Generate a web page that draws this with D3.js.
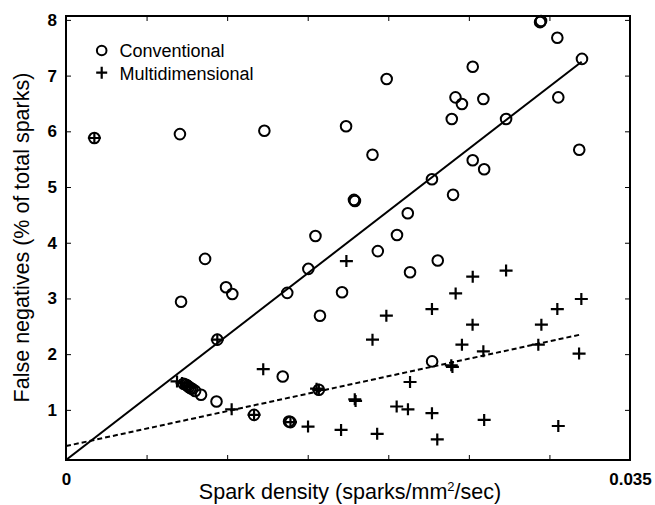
<!DOCTYPE html>
<html><head><meta charset="utf-8">
<script src="https://cdn.jsdelivr.net/npm/d3@7"></script>
<style>body{margin:0;background:#fff} svg{display:block}</style>
</head><body>
<svg id="c" width="655" height="505"></svg>
<script>
// Conventional (circles)
const convX = [0.00176,0.00707,0.01231,0.01548,0.00863,0.00714,0.00993,0.01032,0.01373,0.01504,
  0.01576,0.00939,0.01345,0.00745,0.00763,0.00782,0.00801,0.00838,0.00934,0.01167,
  0.01393,0.01384,0.01569,0.02942,0.02948,0.03049,0.03202,0.02524,0.01990,0.02417,
  0.02457,0.02590,0.03055,0.02394,0.02731,0.01738,0.01902,0.03185,0.02524,0.02595,
  0.01793,0.01787,0.02271,0.02402,0.02121,0.02054,0.01935,0.02307,0.02135,0.01713,0.02272,
  0.00730,0.00755,0.00772];
const convY = [5.88,5.95,6.01,4.12,3.71,2.94,3.20,3.08,3.10,3.53,
  2.69,2.26,1.60,1.45,1.41,1.38,1.34,1.27,1.15,0.91,
  0.78,0.79,1.36,7.96,7.98,7.68,7.30,7.16,6.94,6.61,
  6.49,6.58,6.61,6.22,6.22,6.09,5.58,5.67,5.48,5.32,
  4.75,4.77,5.14,4.86,4.53,4.14,3.85,3.68,3.47,3.11,1.87,
  1.47,1.43,1.39];
// Multidimensional (plus signs)
const multiX = [0.00176,0.00939,0.00689,0.00720,0.00751,0.01028,0.01167,0.01393,0.01502,0.01224,
  0.01569,0.01555,0.01740,0.02524,0.02731,0.02418,0.02271,0.01988,0.03198,0.03049,
  0.02523,0.02950,0.01902,0.02457,0.02590,0.02931,0.03184,0.02391,0.02398,0.02135,
  0.01792,0.01797,0.02052,0.02122,0.02271,0.02595,0.03055,0.01707,0.01931,0.02304,
  0.00770];
const multiY = [5.88,2.26,1.51,1.48,1.44,1.01,0.91,0.78,0.70,1.73,
  1.36,1.38,3.67,3.39,3.50,3.09,2.81,2.69,2.99,2.81,
  2.53,2.53,2.26,2.17,2.05,2.17,2.01,1.80,1.77,1.50,
  1.19,1.16,1.06,1.01,0.94,0.82,0.71,0.64,0.57,0.47,
  1.41];
// regression lines
const fitConvX = [0, 0.0320];
const fitConvY = [0.10, 7.25];
const fitMultiX = [0, 0.0319];
const fitMultiY = [0.35, 2.35];
// ticks
const xTicks = [0,0.005,0.01,0.015,0.02,0.025,0.03,0.035];
const xTickLabels = ["0","","","","","","","0.035"];
const yTicks = [1,2,3,4,5,6,7,8];
const yTickLabels = ["1","2","3","4","5","6","7","8"];
const legendLabels = ["Conventional","Multidimensional"];

const svg = d3.select("#c");
const L=66,T=16,R=630,B=460;
const x = d3.scaleLinear().domain([0,0.035]).range([L,R]);
const y = d3.scaleLinear().domain([0.1,8.07]).range([B,T]);
const tickFont = "bold 17px 'Liberation Sans', Arial, sans-serif";

svg.append("defs").append("clipPath").attr("id","clip")
  .append("rect").attr("x",L).attr("y",T).attr("width",R-L).attr("height",B-T);

function styleAxis(g){
  g.select(".domain").remove();
  g.selectAll(".tick line").attr("stroke","#000").attr("stroke-width",1);
  g.selectAll(".tick text").attr("fill","#000").style("font",tickFont);
}
svg.append("g").attr("transform",`translate(0,${B})`)
  .call(d3.axisBottom(x).tickValues(xTicks).tickSize(-5).tickPadding(13)
    .tickFormat((d,i)=>xTickLabels[i])).call(styleAxis);
svg.append("g").attr("transform",`translate(0,${T})`)
  .call(d3.axisTop(x).tickValues(xTicks).tickSize(-5).tickFormat("")).call(styleAxis);
svg.append("g").attr("transform",`translate(${L},0)`)
  .call(d3.axisLeft(y).tickValues(yTicks).tickSize(-5).tickPadding(9)
    .tickFormat((d,i)=>yTickLabels[i])).call(styleAxis);
svg.append("g").attr("transform",`translate(${R},0)`)
  .call(d3.axisRight(y).tickValues(yTicks).tickSize(-5).tickFormat("")).call(styleAxis);

// frame
svg.append("rect").attr("x",L).attr("y",T).attr("width",R-L).attr("height",B-T)
  .attr("fill","none").attr("stroke","#000").attr("stroke-width",2);

const plot = svg.append("g").attr("clip-path","url(#clip)");
const line = d3.line().x(d=>x(d[0])).y(d=>y(d[1]));
plot.append("path").attr("d",line(d3.zip(fitConvX,fitConvY)))
  .attr("fill","none").attr("stroke","#000").attr("stroke-width",2);
plot.append("path").attr("d",line(d3.zip(fitMultiX,fitMultiY)))
  .attr("fill","none").attr("stroke","#000").attr("stroke-width",2).attr("stroke-dasharray","5,3");

const pts = svg.append("g");
pts.selectAll("circle.conv").data(d3.zip(convX,convY)).join("circle")
  .attr("class","conv").attr("cx",d=>x(d[0])).attr("cy",d=>y(d[1])).attr("r",5.3)
  .attr("fill","none").attr("stroke","#000").attr("stroke-width",2);
const plusPath = "M-6.5,0H6.5M0,-6V6";
pts.selectAll("path.multi").data(d3.zip(multiX,multiY)).join("path")
  .attr("class","multi").attr("transform",d=>`translate(${x(d[0])},${y(d[1])})`)
  .attr("d",plusPath).attr("fill","none").attr("stroke","#000").attr("stroke-width",2.2);

// legend
const leg = svg.append("g");
leg.append("circle").attr("cx",101.7).attr("cy",50.5).attr("r",4.8)
  .attr("fill","none").attr("stroke","#000").attr("stroke-width",2);
leg.append("path").attr("transform","translate(101.7,72.7)").attr("d","M-5.5,0H5.5M0,-6V6")
  .attr("fill","none").attr("stroke","#000").attr("stroke-width",2.2);
leg.selectAll("text").data(legendLabels).join("text")
  .attr("x",119.5).attr("y",(d,i)=>56.7+i*23.3).text(d=>d)
  .style("font","18px 'Liberation Sans', Arial, sans-serif").attr("fill","#000");

// axis labels
const labFont = "21.5px 'Liberation Sans', Arial, sans-serif";
const xl = svg.append("text").attr("x",350).attr("y",499).attr("text-anchor","middle")
  .style("font",labFont).attr("fill","#000");
xl.append("tspan").text("Spark density (sparks/mm");
xl.append("tspan").attr("font-size","13px").attr("dy","-8").text("2");
xl.append("tspan").attr("dy","8").text("/sec)");
svg.append("text").attr("transform","translate(29,237.5) rotate(-90)").attr("text-anchor","middle")
  .style("font",labFont).attr("fill","#000").text("False negatives (% of total sparks)");
</script>
</body></html>
